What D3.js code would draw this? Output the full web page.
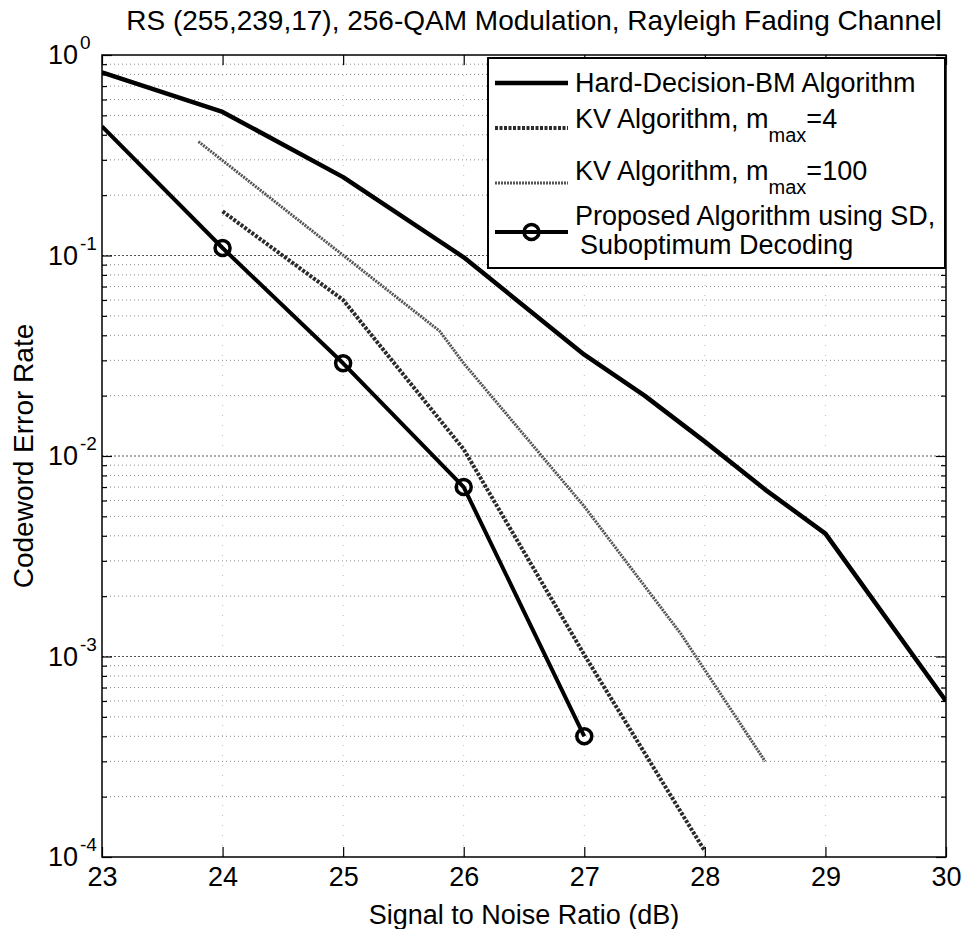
<!DOCTYPE html>
<html><head><meta charset="utf-8">
<script src="https://cdn.jsdelivr.net/npm/d3@7"></script>
<style>body{margin:0;background:#fff}svg{display:block}text{font-family:"Liberation Sans",Arial,sans-serif;fill:#000}</style>
</head><body>
<script>
const titleText = "RS (255,239,17), 256-QAM Modulation, Rayleigh Fading Channel";
const xLabelText = "Signal to Noise Ratio (dB)";
const yLabelText = "Codeword Error Rate";
const xTicks = [23,24,25,26,27,28,29,30];
const yExponents = [0,-1,-2,-3,-4];

const hardX = [23,24,25,26,27,27.5,28,28.5,29,30];
const hardY = [0.82,0.52,0.246,0.098,0.032,0.02,0.0118,0.0068,0.0041,0.0006];
const kv4X = [24,25,26,27,28];
const kv4Y = [0.166,0.06,0.0108,0.00102,0.000107];
const kv100X = [23.8,25.8,26,27,27.8,28.5];
const kv100Y = [0.37,0.042,0.029,0.0056,0.0013,0.0003];
const propX = [23,24,25,26,27];
const propY = [0.44,0.109,0.029,0.007,0.0004];

const W=964,H=929;
const M={l:102,r:946,t:55,b:857};
const svg=d3.select("body").append("svg").attr("width",W).attr("height",H);
const x=d3.scaleLinear().domain([23,30]).range([M.l,M.r]);
const y=d3.scaleLog().domain([1e-4,1]).range([M.b,M.t]);

const minor=[];
for(let e=-4;e<0;e++){for(let k=2;k<=9;k++){minor.push(k*Math.pow(10,e));}}
const majors=yExponents.map(e=>Math.pow(10,e));

const grid=svg.append("g");
grid.selectAll("line.hm").data(minor).join("line")
 .attr("x1",M.l).attr("x2",M.r).attr("y1",d=>y(d)).attr("y2",d=>y(d))
 .attr("stroke","#888").attr("stroke-width",1).attr("stroke-dasharray","1,3");
grid.selectAll("line.hM").data(majors.slice(1,4)).join("line")
 .attr("x1",M.l).attr("x2",M.r).attr("y1",d=>y(d)).attr("y2",d=>y(d))
 .attr("stroke","#555").attr("stroke-width",1).attr("stroke-dasharray","2,2");
grid.selectAll("line.v").data(xTicks.slice(1,-1)).join("line")
 .attr("x1",d=>x(d)).attr("x2",d=>x(d)).attr("y1",M.t).attr("y2",M.b)
 .attr("stroke","#bbb").attr("stroke-width",1).attr("stroke-dasharray","1,9");

svg.append("rect").attr("x",M.l).attr("y",M.t).attr("width",M.r-M.l).attr("height",M.b-M.t)
 .attr("fill","none").attr("stroke","#000").attr("stroke-width",1.5);

const xAxB=d3.axisBottom(x).tickValues(xTicks).tickSize(-10).tickPadding(10).tickFormat(d3.format("d"));
const gxb=svg.append("g").attr("transform",`translate(0,${M.b})`).call(xAxB);
gxb.select(".domain").remove();
gxb.selectAll("text").attr("font-size",27).attr("font-family","Liberation Sans, Arial, sans-serif").attr("fill","#000");
const xAxT=d3.axisTop(x).tickValues(xTicks).tickSize(-10).tickFormat("");
const gxt=svg.append("g").attr("transform",`translate(0,${M.t})`).call(xAxT);
gxt.select(".domain").remove();

function yTicks(side,major){
  const ax=(side==="l"?d3.axisLeft(y):d3.axisRight(y)).tickValues(major?majors:minor).tickSize(major?-10:-5).tickFormat("");
  const g=svg.append("g").attr("transform",`translate(${side==="l"?M.l:M.r},0)`).call(ax);
  g.select(".domain").remove();
}
yTicks("l",true);yTicks("l",false);yTicks("r",true);yTicks("r",false);
svg.selectAll(".tick line").attr("stroke","#000").attr("stroke-width",1.2);

const yl=svg.append("g");
yExponents.forEach(e=>{
  yl.append("text").attr("x",78).attr("y",y(Math.pow(10,e))+9).attr("text-anchor","end").attr("font-size",27).text("10");
  yl.append("text").attr("x",80).attr("y",y(Math.pow(10,e))-6).attr("font-size",19).text(e===0?"0":"-"+(-e));
});

svg.append("text").attr("x",(M.l+M.r)/2+10).attr("y",30).attr("text-anchor","middle").attr("font-size",28).text(titleText);
svg.append("text").attr("x",(M.l+M.r)/2).attr("y",924).attr("text-anchor","middle").attr("font-size",27).text(xLabelText);
svg.append("text").attr("transform",`translate(33,${(M.t+M.b)/2}) rotate(-90)`).attr("text-anchor","middle").attr("font-size",28).text(yLabelText);

svg.append("clipPath").attr("id","c").append("rect").attr("x",M.l).attr("y",M.t-2).attr("width",M.r-M.l).attr("height",M.b-M.t+4);
const line=d3.line().x(d=>x(d[0])).y(d=>y(d[1]));
const series=[
 {xs:hardX,ys:hardY,stroke:"#000",w:4.5,dash:null},
 {xs:kv4X,ys:kv4Y,stroke:"#2a2a2a",w:4,dash:"3,1.5"},
 {xs:kv100X,ys:kv100Y,stroke:"#555",w:3,dash:"2,1"},
 {xs:propX,ys:propY,stroke:"#000",w:4,dash:null}
];
const lg=svg.append("g").attr("clip-path","url(#c)");
series.forEach(s=>{
  lg.append("path").datum(s.xs.map((v,i)=>[v,s.ys[i]])).attr("d",line)
   .attr("fill","none").attr("stroke",s.stroke).attr("stroke-width",s.w)
   .attr("stroke-dasharray",s.dash).attr("stroke-linejoin","round");
});
lg.selectAll("circle.p").data(propX.slice(1).map((v,i)=>[v,propY[i+1]])).join("circle")
 .attr("cx",d=>x(d[0])).attr("cy",d=>y(d[1])).attr("r",7.5)
 .attr("fill","none").attr("stroke","#000").attr("stroke-width",3.5);

const L={x0:488,x1:945,y0:58,y1:268};
const leg=svg.append("g");
leg.append("rect").attr("x",L.x0).attr("y",L.y0).attr("width",L.x1-L.x0).attr("height",L.y1-L.y0)
 .attr("fill","#fff").attr("stroke","#000").attr("stroke-width",2);
const lx0=495,lx1=568,tx=575;
const rows=[{ly:83,s:series[0]},{ly:128,s:series[1]},{ly:183,s:series[2]},{ly:232,s:series[3]}];
rows.forEach(r=>{
  leg.append("line").attr("x1",lx0).attr("x2",lx1).attr("y1",r.ly).attr("y2",r.ly)
   .attr("stroke",r.s.stroke).attr("stroke-width",r.s.w).attr("stroke-dasharray",r.s.dash);
});
leg.append("circle").attr("cx",(lx0+lx1)/2).attr("cy",232).attr("r",7.5).attr("fill","none").attr("stroke","#000").attr("stroke-width",3.5);
leg.append("text").attr("x",tx).attr("y",92).attr("font-size",27).text("Hard-Decision-BM Algorithm");
function kvText(yb,val){
  const t=leg.append("text").attr("x",tx).attr("y",yb).attr("font-size",27);
  t.append("tspan").text("KV Algorithm, m");
  t.append("tspan").attr("dy",14).attr("font-size",20).text("max");
  t.append("tspan").attr("dy",-14).text("="+val);
}
kvText(128,"4");
kvText(180,"100");
leg.append("text").attr("x",tx).attr("y",225).attr("font-size",27).text("Proposed Algorithm using SD,");
leg.append("text").attr("x",tx+5).attr("y",254).attr("font-size",27).text("Suboptimum Decoding");
</script>
</body></html>
